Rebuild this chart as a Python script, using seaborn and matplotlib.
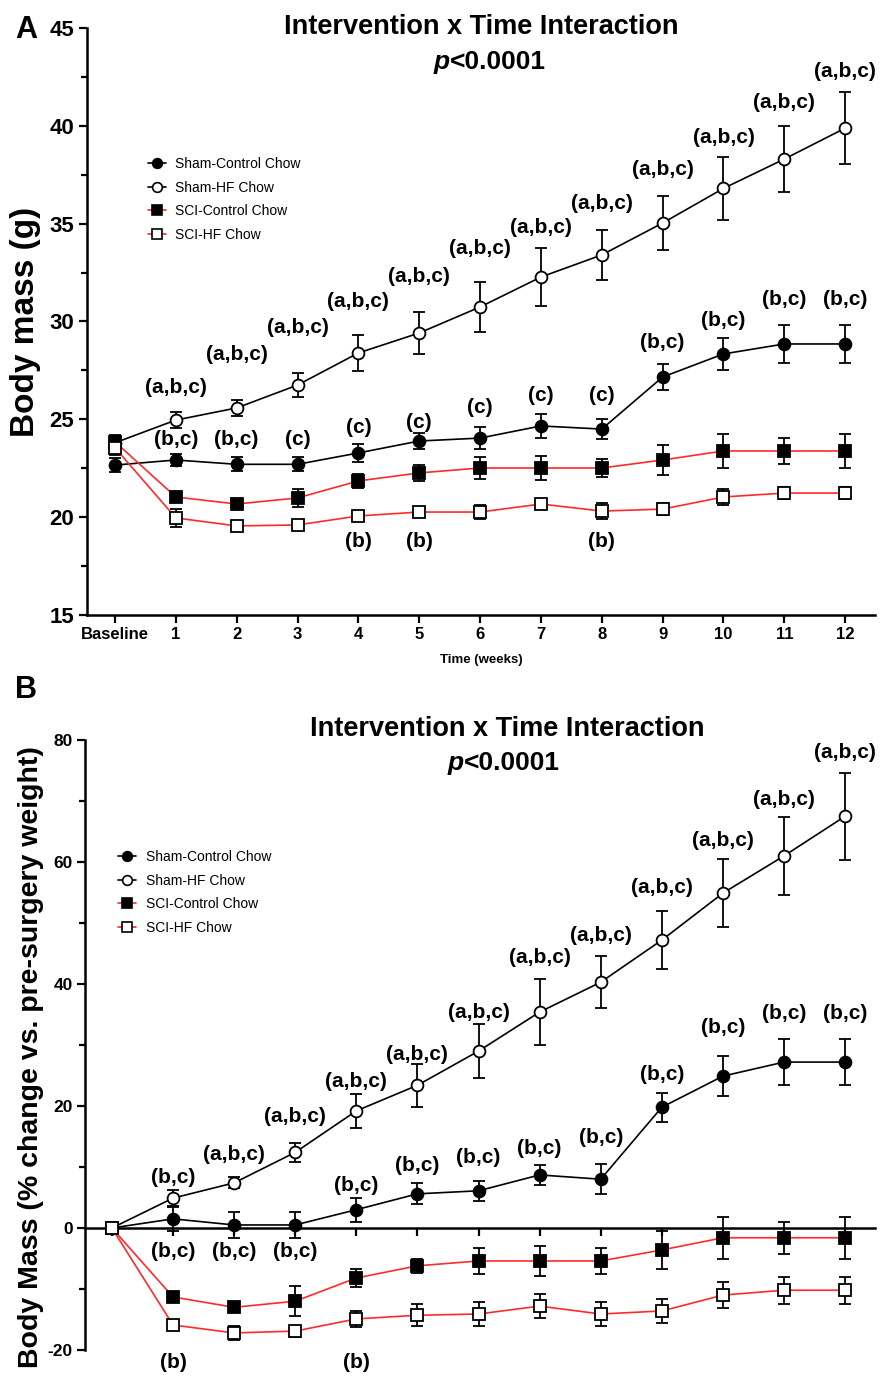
import numpy as np
import pandas as pd
import matplotlib
matplotlib.use('Agg')
import matplotlib.pyplot as plt
from matplotlib.lines import Line2D
from matplotlib.ticker import MultipleLocator
import seaborn as sns

# x positions: baseline then weeks 1-12
weeks = np.arange(13)
week_labels = ['Baseline'] + [str(i) for i in range(1, 13)]
groups = ['Sham-Control Chow', 'Sham-HF Chow', 'SCI-Control Chow', 'SCI-HF Chow']

# panel A - body mass (g), mean and SEM
mass_sham_ctrl = [22.66, 22.92, 22.7, 22.7, 23.28, 23.89, 24.04, 24.66, 24.5, 27.16, 28.34, 28.85, 28.85]
mass_sham_ctrl_err = [0.35, 0.3, 0.35, 0.35, 0.45, 0.4, 0.56, 0.6, 0.5, 0.65, 0.8, 0.95, 0.95]
mass_sham_hf = [23.8, 24.96, 25.58, 26.75, 28.39, 29.41, 30.74, 32.27, 33.4, 35.03, 36.8, 38.3, 39.88]
mass_sham_hf_err = [0.35, 0.4, 0.4, 0.6, 0.9, 1.07, 1.26, 1.5, 1.27, 1.36, 1.6, 1.7, 1.85]
mass_sci_ctrl = [23.85, 21.03, 20.67, 20.98, 21.85, 22.26, 22.51, 22.51, 22.51, 22.92, 23.38, 23.38, 23.38]
mass_sci_ctrl_err = [0.35, 0.15, 0.15, 0.45, 0.35, 0.4, 0.56, 0.6, 0.45, 0.77, 0.87, 0.66, 0.87]
mass_sci_hf = [23.55, 19.96, 19.55, 19.6, 20.06, 20.26, 20.26, 20.67, 20.31, 20.41, 21.03, 21.23, 21.23]
mass_sci_hf_err = [0.35, 0.45, 0.15, 0.15, 0.15, 0.2, 0.36, 0.2, 0.4, 0.3, 0.4, 0.3, 0.3]

# panel B - % change vs pre-surgery weight
pct_sham_ctrl = [0, 1.5, 0.5, 0.5, 3.0, 5.6, 6.1, 8.7, 8.0, 19.8, 24.9, 27.2, 27.2]
pct_sham_ctrl_err = [0, 2.0, 2.2, 2.2, 2.0, 1.7, 1.6, 1.6, 2.5, 2.4, 3.3, 3.8, 3.8]
pct_sham_hf = [0, 4.9, 7.4, 12.4, 19.2, 23.4, 29.0, 35.4, 40.3, 47.2, 54.9, 61.0, 67.5]
pct_sham_hf_err = [0, 1.3, 0.9, 1.5, 2.8, 3.5, 4.4, 5.4, 4.3, 4.8, 5.6, 6.4, 7.1]
pct_sci_ctrl = [0, -11.3, -13.0, -12.0, -8.2, -6.2, -5.4, -5.4, -5.4, -3.6, -1.6, -1.6, -1.6]
pct_sci_ctrl_err = [0, 0.8, 0.6, 2.5, 1.5, 1.2, 2.2, 2.5, 2.1, 3.1, 3.4, 2.6, 3.4]
pct_sci_hf = [0, -15.9, -17.2, -16.9, -14.9, -14.3, -14.1, -12.8, -14.1, -13.6, -11.0, -10.2, -10.2]
pct_sci_hf_err = [0, 0.3, 1.1, 0.9, 1.3, 1.8, 2.0, 2.0, 2.0, 1.9, 2.1, 2.2, 2.2]

# significance letters (week, text, label height in data units)
notes_a = [(1, '(a,b,c)', 26.6), (2, '(a,b,c)', 28.3), (3, '(a,b,c)', 29.7), (4, '(a,b,c)', 31.0),
           (5, '(a,b,c)', 32.3), (6, '(a,b,c)', 33.75), (7, '(a,b,c)', 34.8), (8, '(a,b,c)', 36.05),
           (9, '(a,b,c)', 37.75), (10, '(a,b,c)', 39.4), (11, '(a,b,c)', 41.2), (12, '(a,b,c)', 42.75),
           (1, '(b,c)', 23.95), (2, '(b,c)', 23.95), (3, '(c)', 23.95), (4, '(c)', 24.56),
           (5, '(c)', 24.86), (6, '(c)', 25.58), (7, '(c)', 26.24), (8, '(c)', 26.24),
           (9, '(b,c)', 28.9), (10, '(b,c)', 30.07), (11, '(b,c)', 31.1), (12, '(b,c)', 31.1),
           (4, '(b)', 18.73), (5, '(b)', 18.73), (8, '(b)', 18.73)]
notes_b = [(1, '(b,c)', 8.2), (2, '(a,b,c)', 12.0), (3, '(a,b,c)', 18.2), (4, '(a,b,c)', 24.0),
           (5, '(a,b,c)', 28.4), (6, '(a,b,c)', 35.4), (7, '(a,b,c)', 44.3), (8, '(a,b,c)', 47.9),
           (9, '(a,b,c)', 55.9), (10, '(a,b,c)', 63.6), (11, '(a,b,c)', 70.2), (12, '(a,b,c)', 77.9),
           (4, '(b,c)', 7.0), (5, '(b,c)', 10.3), (6, '(b,c)', 11.6), (7, '(b,c)', 13.1),
           (8, '(b,c)', 14.8), (9, '(b,c)', 25.1), (10, '(b,c)', 32.8), (11, '(b,c)', 35.2),
           (12, '(b,c)', 35.2), (1, '(b,c)', -3.9), (2, '(b,c)', -3.9), (3, '(b,c)', -3.9),
           (1, '(b)', -22.0), (4, '(b)', -22.0)]

sns.set_style('ticks')
plt.rcParams['font.family'] = ['Liberation Sans', 'DejaVu Sans']
plt.rcParams['text.color'] = 'black'
plt.rcParams['axes.labelcolor'] = 'black'
plt.rcParams['xtick.color'] = 'black'
plt.rcParams['ytick.color'] = 'black'
plt.rcParams['axes.edgecolor'] = 'black'
plt.rcParams['axes.unicode_minus'] = False

# line colour, marker, marker face per group
styles = {
    'Sham-Control Chow': ('black', 'o', 'black'),
    'Sham-HF Chow': ('black', 'o', 'white'),
    'SCI-Control Chow': ('#ff2a2a', 's', 'black'),
    'SCI-HF Chow': ('#ff2a2a', 's', 'white'),
}


def draw_series(ax, series):
    for name, (vals, errs) in zip(groups, series):
        lc, mk, mf = styles[name]
        df = pd.DataFrame({'week': weeks, 'value': vals})
        ax.errorbar(weeks, vals, yerr=errs, fmt='none', ecolor='black',
                    elinewidth=1.3, capsize=4.5, capthick=1.3, zorder=3, clip_on=False)
        sns.lineplot(data=df, x='week', y='value', ax=ax, color=lc, lw=1.2,
                     marker=mk, markersize=8.5, markerfacecolor=mf,
                     markeredgecolor='black', markeredgewidth=1.3, zorder=4, clip_on=False)


def add_legend(ax, loc):
    handles = []
    for name in groups:
        lc, mk, mf = styles[name]
        handles.append(Line2D([0], [0], color=lc, lw=1.2, marker=mk, markersize=7,
                              markerfacecolor=mf, markeredgecolor='black', markeredgewidth=1.2))
    ax.legend(handles, groups, loc='upper left', bbox_to_anchor=loc, frameon=False,
              fontsize=10, handlelength=1.3, handletextpad=0.7, labelspacing=0.7,
              borderaxespad=0)


def add_title(ax, y1, y2, xc, xp):
    ax.text(xc, y1, 'Intervention x Time Interaction', transform=ax.transAxes, ha='center',
            va='center', fontsize=19.5, fontweight='bold')
    ax.text(xp, y2, 'p', transform=ax.transAxes, ha='right', va='center',
            fontsize=19, fontweight='bold', fontstyle='italic')
    ax.text(xp, y2, '<0.0001', transform=ax.transAxes, ha='left', va='center',
            fontsize=19, fontweight='bold')


fig = plt.figure(figsize=(8.84, 13.77), dpi=100)

# ---- panel A ----
axA = fig.add_axes([0.0984, 0.5534, 0.8914, 0.4263])
draw_series(axA, [(mass_sham_ctrl, mass_sham_ctrl_err), (mass_sham_hf, mass_sham_hf_err),
                  (mass_sci_ctrl, mass_sci_ctrl_err), (mass_sci_hf, mass_sci_hf_err)])
axA.set_ylim(15, 45)
axA.set_xlim(-0.46, 12.49)
axA.yaxis.set_major_locator(MultipleLocator(5))
axA.yaxis.set_minor_locator(MultipleLocator(2.5))
axA.set_xticks(weeks)
axA.set_xticklabels(week_labels, fontsize=12, fontweight='bold')
for lab in axA.get_yticklabels():
    lab.set_fontsize(16)
    lab.set_fontweight('bold')
axA.set_xlabel('Time (weeks)', fontsize=9.5, fontweight='bold', labelpad=8)
axA.set_ylabel('Body mass (g)', fontsize=24, fontweight='bold', labelpad=6)
for t in notes_a:
    axA.text(t[0], t[2], t[1], ha='center', va='center', fontsize=15, fontweight='bold', zorder=5)
add_legend(axA, (0.07, 0.79))
add_title(axA, 1.002, 0.942, 0.5, 0.46)

# ---- panel B ----
axB = fig.add_axes([0.0962, 0.0196, 0.8937, 0.443])
draw_series(axB, [(pct_sham_ctrl, pct_sham_ctrl_err), (pct_sham_hf, pct_sham_hf_err),
                  (pct_sci_ctrl, pct_sci_ctrl_err), (pct_sci_hf, pct_sci_hf_err)])
axB.set_ylim(-20, 80)
axB.set_xlim(-0.44, 12.49)
axB.spines['bottom'].set_position(('data', 0))
axB.yaxis.set_major_locator(MultipleLocator(20))
axB.yaxis.set_minor_locator(MultipleLocator(10))
axB.set_xticks(weeks)
axB.set_xticklabels([])
for lab in axB.get_yticklabels():
    lab.set_fontsize(12.5)
    lab.set_fontweight('bold')
axB.set_xlabel('')
axB.set_ylabel('Body Mass (% change vs. pre-surgery weight)', fontsize=20.5,
               fontweight='bold')
axB.yaxis.set_label_coords(-0.052, 0.48)
for t in notes_b:
    axB.text(t[0], t[2], t[1], ha='center', va='center', fontsize=15, fontweight='bold',
             zorder=5, clip_on=False)
add_legend(axB, (0.035, 0.829))
add_title(axB, 1.018, 0.962, 0.534, 0.479)

for ax in (axA, axB):
    sns.despine(ax=ax)
    ax.spines['left'].set_linewidth(1.8)
    ax.spines['bottom'].set_linewidth(1.8)
    ax.tick_params(which='major', direction='out', length=6, width=1.6, color='black', pad=3)
    ax.tick_params(which='minor', direction='out', length=4, width=1.6, color='black')
    ax.tick_params(axis='x', which='minor', bottom=False)
    ax.set_facecolor('white')

fig.text(0.017, 0.978, 'A', fontsize=22, fontweight='bold', ha='left', va='center')
fig.text(0.017, 0.499, 'B', fontsize=22, fontweight='bold', ha='left', va='center')

fig.savefig('out.png', dpi=100, facecolor='white')
